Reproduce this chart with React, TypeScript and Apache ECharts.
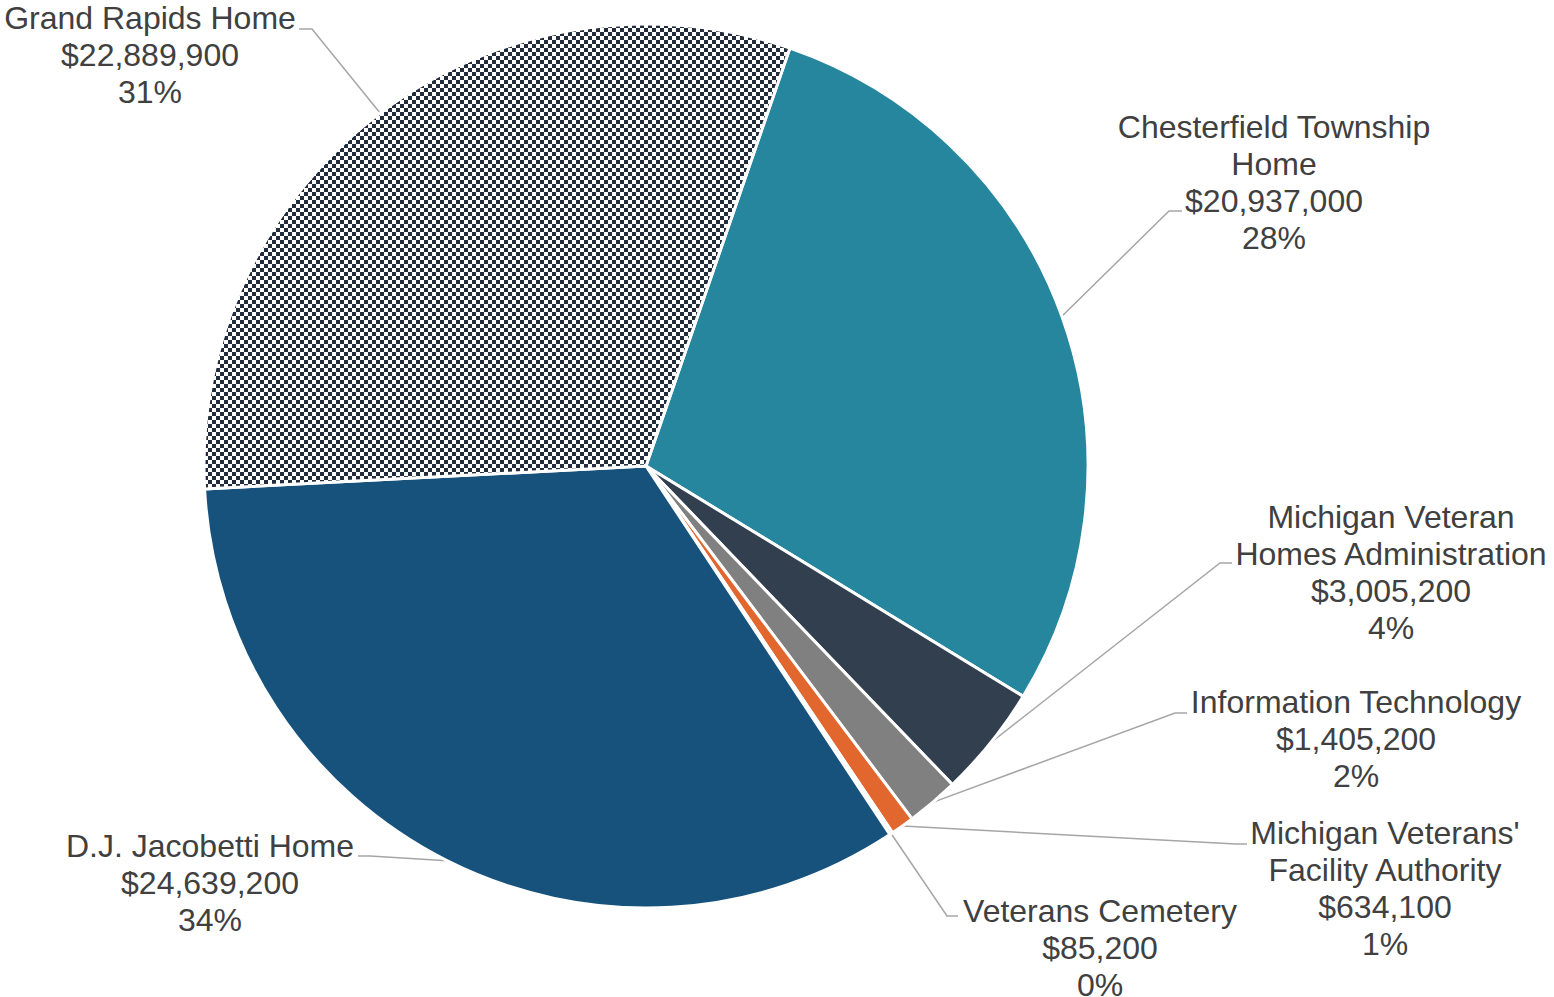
import React, { useEffect, useRef } from "react";
import * as echarts from "echarts";

// ---- data ----
const categories = [
  "Chesterfield Township Home",
  "Michigan Veteran Homes Administration",
  "Information Technology",
  "Michigan Veterans' Facility Authority",
  "Veterans Cemetery",
  "D.J. Jacobetti Home",
  "Grand Rapids Home",
];
const labelNames = [
  "Chesterfield Township\nHome",
  "Michigan Veteran\nHomes Administration",
  "Information Technology",
  "Michigan Veterans'\nFacility Authority",
  "Veterans Cemetery",
  "D.J. Jacobetti Home",
  "Grand Rapids Home",
];
const values = [20937000, 3005200, 1405200, 634100, 85200, 24639200, 22889900];

// ---- style / layout ----
const colors = ["#25869e", "#323f4f", "#808080", "#e2672e", "#5aa0c0", "#16527c", "PATTERN"];
const labelCenters = [
  [1274, 182],
  [1391, 572],
  [1356, 739],
  [1385, 888],
  [1100, 948],
  [210, 883],
  [150, 55],
];
const lineBends = [
  [[1169, 211], [1182, 211]],
  [[1220, 563], [1232, 563]],
  [[1175, 713], [1187, 713]],
  [[1236, 844], [1247, 844]],
  [[947, 916], [958, 916]],
  [[370, 856], [358, 856]],
  [[312, 29], [299, 29]],
];

function makePattern() {
  const c = document.createElement("canvas");
  c.width = 8;
  c.height = 8;
  const ctx = c.getContext("2d")!;
  ctx.fillStyle = "#ffffff";
  ctx.fillRect(0, 0, 8, 8);
  ctx.fillStyle = "#222c3a";
  ctx.fillRect(0, 0, 4, 4);
  ctx.fillRect(4, 4, 4, 4);
  return { image: c, repeat: "repeat", imageWidth: 8, imageHeight: 8 } as any;
}

export default function App() {
  const ref = useRef<HTMLDivElement>(null);
  useEffect(() => {
    if (!ref.current) return;
    const chart = echarts.init(ref.current, null, { renderer: "svg" });
    const pattern = makePattern();
    const data = categories.map((name, i) => ({
      name,
      value: values[i],
      itemStyle: { color: colors[i] === "PATTERN" ? pattern : colors[i] },
    }));
    chart.setOption({
      animation: false,
      backgroundColor: "#ffffff",
      series: [
        {
          type: "pie",
          center: [646, 466],
          radius: 442,
          startAngle: 71,
          clockwise: true,
          percentPrecision: 0,
          avoidLabelOverlap: false,
          itemStyle: { borderColor: "#ffffff", borderWidth: 3 },
          label: {
            show: true,
            position: "outside",
            fontFamily: "'Liberation Sans', Arial, sans-serif",
            fontSize: 32,
            lineHeight: 37,
            color: "#404040",
            align: "center",
            formatter: (p: any) =>
              `${labelNames[p.dataIndex]}\n$${p.value.toLocaleString("en-US")}\n${p.percent}%`,
          },
          labelLine: {
            show: true,
            length: 20,
            length2: 20,
            lineStyle: { color: "#a6a6a6", width: 1.5 },
          },
          labelLayout: (params: any) => {
            const i = params.dataIndex;
            const pts = params.labelLinePoints;
            const res: any = {
              x: labelCenters[i][0],
              y: labelCenters[i][1],
              align: "center",
              verticalAlign: "middle",
            };
            if (pts && pts[0]) {
              res.labelLinePoints = [pts[0], lineBends[i][0], lineBends[i][1]];
            }
            return res;
          },
          emphasis: { disabled: true },
          data,
        },
      ],
    });
    return () => chart.dispose();
  }, []);
  return (
    <div
      ref={ref}
      style={{ position: "fixed", left: 0, top: 0, width: 1554, height: 997 }}
    />
  );
}
